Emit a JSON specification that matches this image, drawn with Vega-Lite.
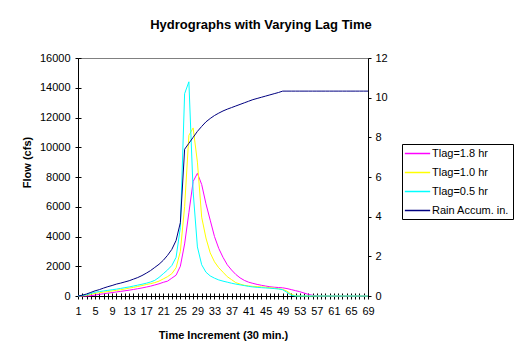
{
  "$schema": "https://vega.github.io/schema/vega-lite/v6.json",
  "width": 290,
  "height": 238,
  "autosize": {"type": "none"},
  "padding": {"left": 78, "top": 58, "right": 158, "bottom": 66},
  "background": "white",
  "config": {
    "font": "Liberation Sans",
    "view": {"stroke": "#808080", "strokeWidth": 1},
    "axis": {
      "domainColor": "black",
      "tickColor": "black",
      "labelColor": "black",
      "titleColor": "black",
      "labelFont": "Liberation Sans",
      "titleFont": "Liberation Sans",
      "labelFontSize": 11,
      "titleFontSize": 11,
      "titleFontWeight": "bold",
      "tickSize": 3,
      "grid": true,
      "gridColor": "black",
      "gridDash": [3, 1000],
      "gridOpacity": 1,
      "labelFlush": false
    },
    "axisX": {"labelOverlap": false, "gridDash": [0, 235, 3, 1000]}
  },
  "title": {
    "text": "Hydrographs with Varying Lag Time",
    "fontSize": 13,
    "fontWeight": "bold",
    "font": "Liberation Sans",
    "color": "black",
    "anchor": "middle",
    "dx": 38,
    "offset": 20
  },
  "data": {
    "values": [
      {"t": 1, "a": 0, "b": 0, "c": 0, "r": 0},
      {"t": 2, "a": 0, "b": 10, "c": 30, "r": 0.04},
      {"t": 3, "a": 0, "b": 50, "c": 80, "r": 0.1},
      {"t": 4, "a": 20, "b": 110, "c": 170, "r": 0.18},
      {"t": 5, "a": 60, "b": 180, "c": 250, "r": 0.26},
      {"t": 6, "a": 110, "b": 220, "c": 300, "r": 0.32},
      {"t": 7, "a": 150, "b": 260, "c": 340, "r": 0.4},
      {"t": 8, "a": 190, "b": 300, "c": 380, "r": 0.47},
      {"t": 9, "a": 230, "b": 340, "c": 420, "r": 0.53},
      {"t": 10, "a": 270, "b": 380, "c": 460, "r": 0.6},
      {"t": 11, "a": 310, "b": 420, "c": 510, "r": 0.65},
      {"t": 12, "a": 350, "b": 470, "c": 560, "r": 0.71},
      {"t": 13, "a": 390, "b": 530, "c": 610, "r": 0.77},
      {"t": 14, "a": 440, "b": 580, "c": 670, "r": 0.85},
      {"t": 15, "a": 490, "b": 640, "c": 730, "r": 0.93},
      {"t": 16, "a": 540, "b": 700, "c": 790, "r": 1.03},
      {"t": 17, "a": 600, "b": 770, "c": 860, "r": 1.15},
      {"t": 18, "a": 660, "b": 830, "c": 940, "r": 1.28},
      {"t": 19, "a": 740, "b": 900, "c": 1050, "r": 1.44},
      {"t": 20, "a": 820, "b": 1000, "c": 1250, "r": 1.6},
      {"t": 21, "a": 920, "b": 1150, "c": 1500, "r": 1.8},
      {"t": 22, "a": 1000, "b": 1300, "c": 1750, "r": 2.05},
      {"t": 23, "a": 1200, "b": 1500, "c": 2050, "r": 2.35},
      {"t": 24, "a": 1400, "b": 1900, "c": 2600, "r": 2.8},
      {"t": 25, "a": 2000, "b": 3000, "c": 4600, "r": 3.7},
      {"t": 26, "a": 3500, "b": 6000, "c": 13600, "r": 7.4},
      {"t": 27, "a": 5600, "b": 10800, "c": 14400, "r": 7.7},
      {"t": 28, "a": 7700, "b": 11300, "c": 7000, "r": 8.0},
      {"t": 29, "a": 8250, "b": 9000, "c": 3300, "r": 8.3},
      {"t": 30, "a": 7500, "b": 5300, "c": 2100, "r": 8.55},
      {"t": 31, "a": 6200, "b": 3900, "c": 1600, "r": 8.78},
      {"t": 32, "a": 5100, "b": 2900, "c": 1350, "r": 8.95},
      {"t": 33, "a": 4000, "b": 2300, "c": 1200, "r": 9.1},
      {"t": 34, "a": 3200, "b": 1900, "c": 1080, "r": 9.22},
      {"t": 35, "a": 2600, "b": 1600, "c": 1000, "r": 9.33},
      {"t": 36, "a": 2100, "b": 1300, "c": 930, "r": 9.42},
      {"t": 37, "a": 1750, "b": 1100, "c": 860, "r": 9.5},
      {"t": 38, "a": 1450, "b": 900, "c": 800, "r": 9.58},
      {"t": 39, "a": 1220, "b": 800, "c": 750, "r": 9.66},
      {"t": 40, "a": 1050, "b": 720, "c": 700, "r": 9.74},
      {"t": 41, "a": 930, "b": 680, "c": 650, "r": 9.82},
      {"t": 42, "a": 850, "b": 650, "c": 610, "r": 9.9},
      {"t": 43, "a": 780, "b": 630, "c": 580, "r": 9.96},
      {"t": 44, "a": 720, "b": 610, "c": 560, "r": 10.02},
      {"t": 45, "a": 670, "b": 590, "c": 540, "r": 10.08},
      {"t": 46, "a": 620, "b": 560, "c": 520, "r": 10.14},
      {"t": 47, "a": 590, "b": 530, "c": 500, "r": 10.2},
      {"t": 48, "a": 570, "b": 490, "c": 470, "r": 10.26},
      {"t": 49, "a": 550, "b": 440, "c": 420, "r": 10.33},
      {"t": 50, "a": 500, "b": 330, "c": 250, "r": 10.33},
      {"t": 51, "a": 430, "b": 120, "c": 50, "r": 10.33},
      {"t": 52, "a": 360, "b": 20, "c": 0, "r": 10.33},
      {"t": 53, "a": 290, "b": 0, "c": 0, "r": 10.33},
      {"t": 54, "a": 200, "b": 0, "c": 0, "r": 10.33},
      {"t": 55, "a": 110, "b": 0, "c": 0, "r": 10.33},
      {"t": 56, "a": 50, "b": 0, "c": 0, "r": 10.33},
      {"t": 57, "a": 10, "b": 0, "c": 0, "r": 10.33},
      {"t": 58, "a": 0, "b": 0, "c": 0, "r": 10.33},
      {"t": 59, "a": 0, "b": 0, "c": 0, "r": 10.33},
      {"t": 60, "a": 0, "b": 0, "c": 0, "r": 10.33},
      {"t": 61, "a": 0, "b": 0, "c": 0, "r": 10.33},
      {"t": 62, "a": 0, "b": 0, "c": 0, "r": 10.33},
      {"t": 63, "a": 0, "b": 0, "c": 0, "r": 10.33},
      {"t": 64, "a": 0, "b": 0, "c": 0, "r": 10.33},
      {"t": 65, "a": 0, "b": 0, "c": 0, "r": 10.33},
      {"t": 66, "a": 0, "b": 0, "c": 0, "r": 10.33},
      {"t": 67, "a": 0, "b": 0, "c": 0, "r": 10.33},
      {"t": 68, "a": 0, "b": 0, "c": 0, "r": 10.33},
      {"t": 69, "a": 0, "b": 0, "c": 0, "r": 10.33}
    ]
  },
  "layer": [
    {
      "transform": [{"fold": ["a", "b", "c"], "as": ["s", "v"]}],
      "mark": {"type": "line", "strokeWidth": 1},
      "encoding": {
        "x": {
          "field": "t",
          "type": "quantitative",
          "scale": {"domain": [1, 69], "nice": false, "zero": false},
          "axis": {
            "title": "Time Increment (30 min.)",
            "values": [1,2,3,4,5,6,7,8,9,10,11,12,13,14,15,16,17,18,19,20,21,22,23,24,25,26,27,28,29,30,31,32,33,34,35,36,37,38,39,40,41,42,43,44,45,46,47,48,49,50,51,52,53,54,55,56,57,58,59,60,61,62,63,64,65,66,67,68,69],
            "labelExpr": "(datum.value - 1) % 4 == 0 ? datum.label : ''",
            "labelOverlap": false,
            "labelFlush": false,
            "labelPadding": 6,
            "titlePadding": 13
          }
        },
        "y": {
          "field": "v",
          "type": "quantitative",
          "scale": {"domain": [0, 16000], "nice": false},
          "axis": {
            "title": "Flow (cfs)",
            "values": [0, 2000, 4000, 6000, 8000, 10000, 12000, 14000, 16000],
            "format": "d",
            "labelPadding": 5,
            "titleX": -51,
            "titleY": 104,
            "titleBaseline": "middle",
            "titleAngle": -90
          }
        },
        "color": {
          "field": "s",
          "type": "nominal",
          "scale": {"domain": ["a", "b", "c", "r"], "range": ["#FF00FF", "#FFFF00", "#00FFFF", "#000080"]},
          "legend": {
            "title": null,
            "orient": "none",
            "legendX": 324,
            "legendY": 86,
            "strokeColor": "black",
            "fillColor": "white",
            "padding": 3,
            "symbolType": "M-2.3,0H2.3",
            "symbolSize": 121,
            "symbolOffset": 6,
            "symbolStrokeWidth": 1.5,
            "labelOffset": 8,
            "labelFont": "Liberation Sans",
            "labelFontSize": 11,
            "labelColor": "black",
            "rowPadding": 7,
            "labelExpr": "datum.value == 'a' ? 'Tlag=1.8 hr' : datum.value == 'b' ? 'Tlag=1.0 hr' : datum.value == 'c' ? 'Tlag=0.5 hr' : 'Rain Accum. in.'"
          }
        }
      }
    },
    {
      "transform": [{"fold": ["r"], "as": ["s", "v"]}],
      "mark": {"type": "line", "strokeWidth": 1},
      "encoding": {
        "x": {
          "field": "t",
          "type": "quantitative",
          "axis": {
            "title": "Time Increment (30 min.)",
            "values": [1,2,3,4,5,6,7,8,9,10,11,12,13,14,15,16,17,18,19,20,21,22,23,24,25,26,27,28,29,30,31,32,33,34,35,36,37,38,39,40,41,42,43,44,45,46,47,48,49,50,51,52,53,54,55,56,57,58,59,60,61,62,63,64,65,66,67,68,69],
            "labelExpr": "(datum.value - 1) % 4 == 0 ? datum.label : ''",
            "labelOverlap": false,
            "labelFlush": false,
            "labelPadding": 6,
            "titlePadding": 13
          }
        },
        "y": {
          "field": "v",
          "type": "quantitative",
          "scale": {"domain": [0, 12], "nice": false},
          "axis": {
            "orient": "right",
            "title": null,
            "values": [0, 2, 4, 6, 8, 10, 12],
            "labelPadding": 4
          }
        },
        "color": {"field": "s", "type": "nominal"}
      }
    }
  ],
  "resolve": {"scale": {"y": "independent"}}
}
